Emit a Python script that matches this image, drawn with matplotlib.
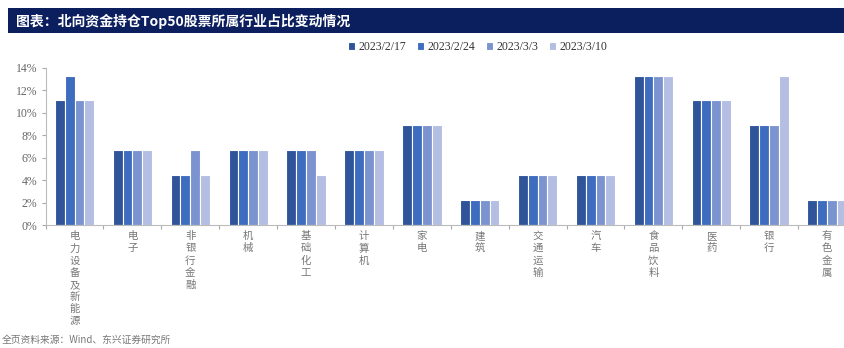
import matplotlib
matplotlib.use("Agg")
import matplotlib.pyplot as plt
from matplotlib.patches import Rectangle
import numpy as np

categories = ["电力设备及新能源", "电子", "非银行金融", "机械", "基础化工", "计算机", "家电",
              "建筑", "交通运输", "汽车", "食品饮料", "医药", "银行", "有色金属"]
series_names = ["2023/2/17", "2023/2/24", "2023/3/3", "2023/3/10"]
s_0217 = [11.11, 6.67, 4.44, 6.67, 6.67, 6.67, 8.89, 2.22, 4.44, 4.44, 13.33, 11.11, 8.89, 2.22]
s_0224 = [13.33, 6.67, 4.44, 6.67, 6.67, 6.67, 8.89, 2.22, 4.44, 4.44, 13.33, 11.11, 8.89, 2.22]
s_0303 = [11.11, 6.67, 6.67, 6.67, 6.67, 6.67, 8.89, 2.22, 4.44, 4.44, 13.33, 11.11, 8.89, 2.22]
s_0310 = [11.11, 6.67, 4.44, 6.67, 4.44, 6.67, 8.89, 2.22, 4.44, 4.44, 13.33, 11.11, 13.33, 2.22]
yticks = [0, 2, 4, 6, 8, 10, 12, 14]

colors = ["#30549a", "#3e6cbf", "#7b94d0", "#b3bee2"]
serif = ["Liberation Serif", "DejaVu Serif"]
cjk = ["Noto Sans CJK SC", "DejaVu Sans"]

W, H = 845, 348
fig = plt.figure(figsize=(W / 100, H / 100), dpi=100)

# title bar
fig.patches.append(Rectangle((8 / W, 1 - 33 / H), (845 - 8) / W, 25 / H,
                             transform=fig.transFigure, facecolor="#0b1f5e",
                             edgecolor="none", zorder=0))
fig.text(16 / W, 1 - 21 / H, "图表：北向资金持仓Top50股票所属行业占比变动情况",
         color="white", fontsize=10, fontweight="bold", family=cjk, va="center", ha="left")

left, right = 45.6 / W, 856 / W
bottom, top = 1 - 225 / H, 1 - 68 / H
ax = fig.add_axes([left, bottom, right - left, top - bottom])

data = [s_0217, s_0224, s_0303, s_0310]
x = np.arange(len(categories))
bw = 0.17
for i, (vals, c, name) in enumerate(zip(data, colors, series_names)):
    ax.bar(x + (i - 1.5) * bw, vals, width=bw, color=c, edgecolor="white",
           linewidth=0.8, label=name, zorder=2)

ax.set_xlim(-0.5, len(categories) - 0.5)
ax.set_ylim(0, 14)
ax.set_yticks(yticks)
ax.set_yticklabels([f"{v}%" for v in yticks], family=serif, fontsize=8.5, color="#666666")
ax.set_xticks(np.arange(len(categories) + 1) - 0.5)
ax.set_xticklabels([])
ax.tick_params(axis="x", length=3, color="#aaaaaa", direction="out")
ax.tick_params(axis="y", length=3, color="#aaaaaa", direction="out", pad=3)
for s in ["top", "right"]:
    ax.spines[s].set_visible(False)
ax.spines["left"].set_color("#bbbbbb")
ax.spines["bottom"].set_color("#bbbbbb")

for xi, cat in zip(x, categories):
    ax.text(xi, -0.55, "\n".join(cat), transform=ax.transData,
            ha="center", va="top", fontsize=7.5, color="#777777", family=cjk,
            linespacing=1.27)

leg = fig.legend(loc="center left", bbox_to_anchor=(337 / W, 1 - 47 / H), ncol=4, frameon=False,
                 prop={"family": serif, "size": 8.5}, handlelength=0.6, handleheight=0.6,
                 handletextpad=0.3, columnspacing=0.9)
for t in leg.get_texts():
    t.set_color("#333333")

fig.text(2 / W, 1 - 340 / H, "全页资料来源：Wind、东兴证券研究所", fontsize=7, color="#777777",
         family=cjk, ha="left", va="center")

fig.savefig("out.png", dpi=100)
